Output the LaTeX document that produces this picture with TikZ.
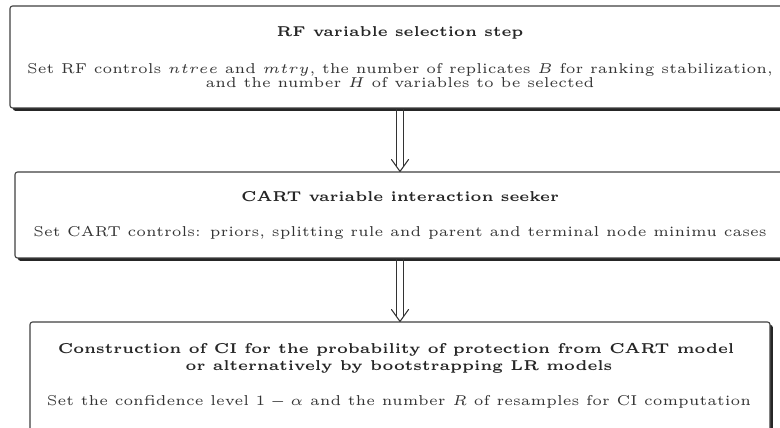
\documentclass[tikz,border=0pt]{standalone}
\usetikzlibrary{arrows.meta,shadows}
\begin{document}
\begin{tikzpicture}[x=0.35pt,y=-0.35pt,
  stagebox/.style={draw=black!75, line width=0.39pt, rounded corners=0.9pt, fill=white,
    inner sep=0pt,
    drop shadow={shadow xshift=1pt, shadow yshift=-1pt, fill=black, opacity=0.85}},
  titleline/.style={anchor=base, inner sep=0pt, text=black!85,
    font=\fontsize{5}{6}\selectfont\bfseries},
  bodyline/.style={anchor=base, inner sep=0pt, text=black!80,
    font=\fontsize{5}{6}\selectfont},
  flowline/.style={draw=black!80, line width=0.37pt},
  flowtip/.style={draw=black!80, line width=0.37pt, line cap=round, line join=round}]
\useasboundingbox (0,0) rectangle (780,428);

% stage boxes
\node[stagebox, minimum width=273pt, minimum height=35.7pt] (rf) at (400,57) {};
\node[stagebox, minimum width=269.5pt, minimum height=30.1pt] (cart) at (400,215) {};
\node[stagebox, minimum width=259pt, minimum height=39.9pt] (ci) at (400,379) {};

% stage texts
\node[titleline] (rft) at (400,37) {RF variable selection step};
\node[bodyline] (rfb1) at (400,74) {Set RF controls $ntree$ and $mtry$, the number of replicates $B$ for ranking stabilization,};
\node[bodyline] (rfb2) at (400,88) {and the number $H$ of variables to be selected};

\node[titleline] (cartt) at (400,202) {CART variable interaction seeker};
\node[bodyline] (cartb) at (400,237) {Set CART controls: priors, splitting rule and parent and terminal node minimu cases};

\node[titleline] (cit1) at (396,353) {Construction of CI for the probability of protection from CART model};
\node[titleline] (cit2) at (399,370) {or alternatively by bootstrapping LR models};
\node[bodyline] (cib) at (399,405) {Set the confidence level $1-\alpha$ and the number $R$ of resamples for CI computation};

% double connectors with open heads
\foreach \from/\to in {rf/cart, cart/ci} {
  \draw[flowline] ([xshift=-1.2pt]\from.south) -- ([xshift=-1.2pt,yshift=1.6pt]\to.north);
  \draw[flowline] ([xshift=1.2pt]\from.south) -- ([xshift=1.2pt,yshift=1.6pt]\to.north);
  \draw[flowtip] ([xshift=-3pt,yshift=4.2pt]\to.north) -- (\to.north) -- ([xshift=3pt,yshift=4.2pt]\to.north);
}
\end{tikzpicture}
\end{document}
